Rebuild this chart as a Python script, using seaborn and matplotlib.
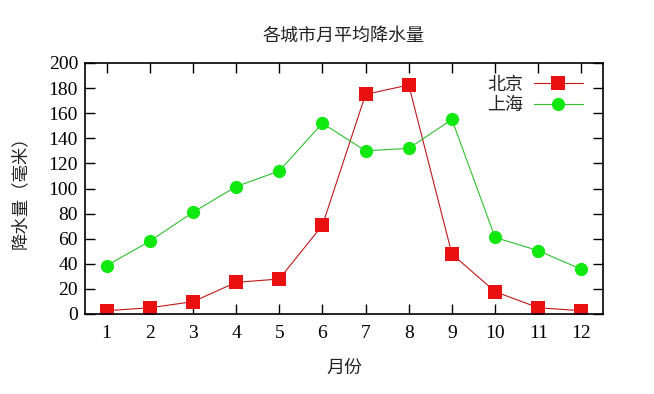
import matplotlib
matplotlib.use("Agg")
import matplotlib.pyplot as plt
import seaborn as sns
import pandas as pd

months = [1, 2, 3, 4, 5, 6, 7, 8, 9, 10, 11, 12]
beijing = [2.6, 5.0, 9.8, 25.2, 27.9, 70.7, 175.0, 182.5, 47.8, 17.8, 5.0, 2.6]
shanghai = [38.5, 58.0, 81.0, 101.5, 114.0, 152.0, 130.0, 132.0, 155.0, 61.0, 50.5, 35.6]
series_names = ["北京", "上海"]
y_ticks = list(range(0, 201, 20))

df = pd.DataFrame({
    "月份": months * 2,
    "降水量": beijing + shanghai,
    "城市": [series_names[0]] * 12 + [series_names[1]] * 12,
})

sns.set_style("ticks")
plt.rcParams["font.family"] = ["Noto Sans CJK SC", "DejaVu Sans"]

fig = plt.figure(figsize=(6.54, 3.94), dpi=100)
ax = fig.add_axes([85 / 654, 1 - 314 / 394, (603 - 85) / 654, (314 - 63) / 394])

palette = {series_names[0]: "#e81010", series_names[1]: "#10e810"}
markers = {series_names[0]: "s", series_names[1]: "o"}
sns.lineplot(data=df, x="月份", y="降水量", hue="城市", style="城市",
             palette=palette, markers=markers, dashes=False, ax=ax,
             linewidth=0.8, markersize=9.5, markeredgewidth=0)

def restyle(line):
    if line.get_marker() == "s":
        line.set_color("#c01818")
        line.set_markerfacecolor("#e81010")
    elif line.get_marker() == "o":
        line.set_color("#30c030")
        line.set_markerfacecolor("#10e810")
    line.set_markeredgewidth(0)

for line in ax.lines:
    restyle(line)

ax.set_xlim(0.5, 12.5)
ax.set_ylim(0, 200)
ax.set_xticks(months)
ax.set_yticks(y_ticks)
ax.tick_params(direction="in", length=7, width=1, top=True, right=True,
               labelsize=14, colors="black")
ax.tick_params(axis="y", pad=5)
ax.tick_params(axis="x", pad=8)
for lab in ax.get_xticklabels() + ax.get_yticklabels():
    lab.set_family(["Liberation Serif", "DejaVu Serif"])
for sp in ax.spines.values():
    sp.set_linewidth(1.2)
    sp.set_color("black")
    sp.set_visible(True)

ax.set_title("各城市月平均降水量", fontsize=13, pad=16, color="#222222")
ax.set_xlabel("月份", fontsize=13, labelpad=12, color="#222222")
ax.set_ylabel("降水量（毫米）", fontsize=12.5, labelpad=14, color="#222222")

handles, labels = ax.get_legend_handles_labels()
for h in handles:
    restyle(h)
leg = ax.legend(handles, labels, loc="upper right", frameon=False,
                markerfirst=False, fontsize=13, handlelength=2.7,
                labelspacing=0.15, borderaxespad=0.3, handletextpad=0.6,
                bbox_to_anchor=(0.985, 1.0))

fig.savefig("out.png", dpi=100, facecolor="white")
